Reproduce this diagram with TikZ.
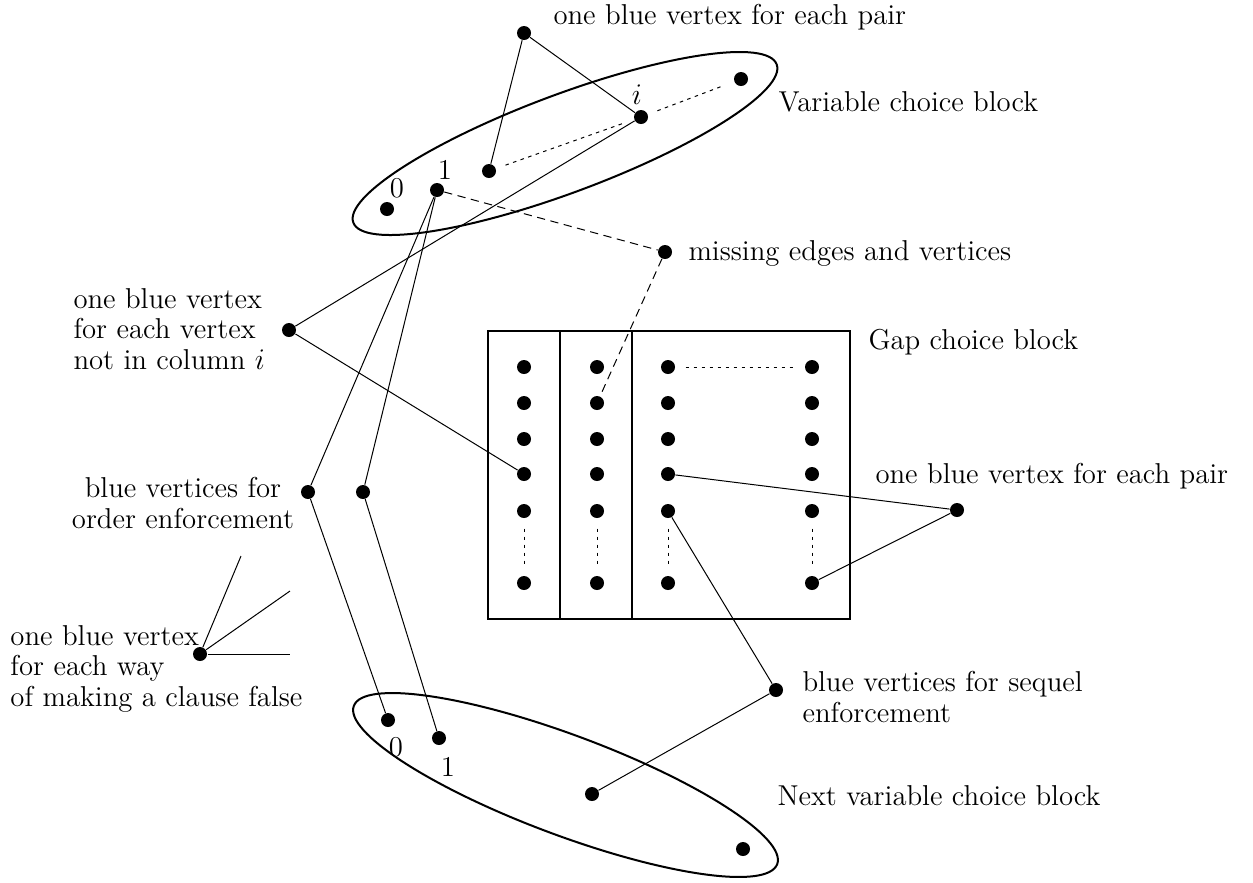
\documentclass[tikz,border=0pt]{standalone}
\begin{document}
\begin{tikzpicture}[x=0.4pt,y=-0.4pt,
  font=\fontsize{11.5}{12.2}\selectfont,
  vtx/.style={circle, fill, inner sep=0pt, minimum size=5.6pt},
  lbl/.style={inner sep=0pt, align=left},
  blk/.style={line width=0.8pt},
  edge/.style={line width=0.4pt},
  dots/.style={line width=0.4pt, dash pattern=on 1.4pt off 1.8pt, shorten >=4pt, shorten <=4pt},
  miss/.style={line width=0.4pt, dash pattern=on 3.3pt off 2.2pt}]
\useasboundingbox (0,0) rectangle (1253,882);

% variable choice block
\draw[blk, shift={(565,143.5)}, rotate=20.5] (0,0) ellipse (226 and 49);
\node[vtx] (a0) at (387,209) {};
\node[vtx] (a1) at (437,190) {};
\node[vtx] (a2) at (489,171) {};
\node[vtx] (ai) at (641,117) {};
\node[vtx] (an) at (741,79) {};
\node at (397,188) {0};
\node at (445,170) {1};
\node at (637,95) {$i$};
\draw[dots] (a2) -- (ai);
\draw[dots] (ai) -- (an);

% next variable choice block
\draw[blk, shift={(565.5,785)}, rotate=-20.5] (0,0) ellipse (226 and 50);
\node[vtx] (b0) at (388,720) {};
\node[vtx] (b1) at (439,738) {};
\node[vtx] (bm) at (592,794) {};
\node[vtx] (bn) at (743,849) {};
\node at (396,747) {0};
\node at (448,767) {1};

% gap choice block
\draw[blk] (488,331) rectangle (850,619);
\draw[blk] (560,331) -- (560,619);
\draw[blk] (632,331) -- (632,619);
\foreach \c/\x in {1/524,2/597,3/668,4/812}{
  \foreach \r/\y in {1/367,2/403,3/439,4/474,5/511,6/583}{
    \node[vtx] (g\c\r) at (\x,\y) {};
  }
  \draw[dots] (g\c5) -- (g\c6);
}
\draw[dots] (g31) -- (g41);

% blue vertices
\node[vtx] (pairtop) at (524,33) {};
\node[vtx] (notcol) at (289,330) {};
\node[vtx] (ordA) at (308,492) {};
\node[vtx] (ordB) at (363,492) {};
\node[vtx] (miss) at (665,252) {};
\node[vtx] (pairright) at (957,510) {};
\node[vtx] (seq) at (776,690) {};
\node[vtx] (clause) at (200,654) {};
\coordinate (c1) at (241,556);
\coordinate (c2) at (290,591);
\coordinate (c3) at (290,654);

% edges
\draw[edge] (pairtop) -- (a2);
\draw[edge] (pairtop) -- (ai);
\draw[edge] (ai) -- (notcol);
\draw[edge] (notcol) -- (g14);
\draw[edge] (a1) -- (ordA);
\draw[edge] (a1) -- (ordB);
\draw[edge] (ordA) -- (b0);
\draw[edge] (ordB) -- (b1);
\draw[miss] (a1) -- (miss);
\draw[miss] (miss) -- (g22);
\draw[edge] (g34) -- (pairright);
\draw[edge] (pairright) -- (g46);
\draw[edge] (g35) -- (seq);
\draw[edge] (seq) -- (bm);
\draw[edge] (clause) -- (c1);
\draw[edge] (clause) -- (c2);
\draw[edge] (clause) -- (c3);

% labels
\node[lbl, anchor=base west] (tPair) at (553,24) {one blue vertex for each pair};
\node[lbl, anchor=base west] (tVar) at (778,111) {Variable choice block};
\node[lbl, anchor=base west] (tMiss) at (688,260) {missing edges and vertices};
\node[lbl, anchor=base west] (tGap) at (868,349) {Gap choice block};
\node[lbl, anchor=base west] (tPairR) at (875,483) {one blue vertex for each pair};
\node[lbl, anchor=north west] (tSeq) at (802,671) {blue vertices for sequel\\enforcement};
\node[lbl, anchor=base west] (tNext) at (777,805) {Next variable choice block};
\node[lbl, anchor=north west] (tNot) at (73,288) {one blue vertex\\for each vertex\\not in column $i$};
\node[lbl, anchor=north, align=center] (tOrd) at (183,477) {blue vertices for\\order enforcement};
\node[lbl, anchor=north west] (tCl) at (10,625) {one blue vertex\\for each way\\of making a clause false};
\end{tikzpicture}
\end{document}
